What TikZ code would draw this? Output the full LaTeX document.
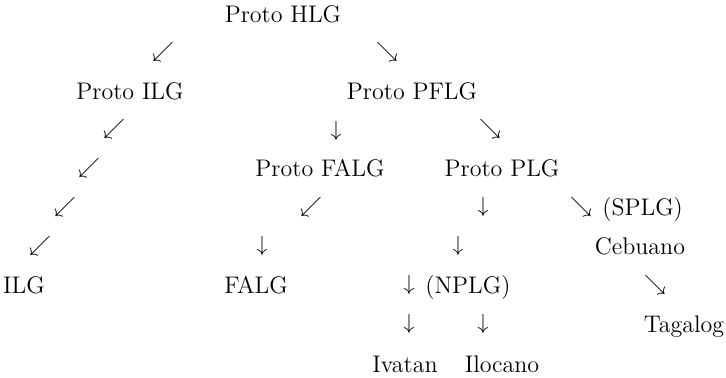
\documentclass[tikz,border=0pt]{standalone}
\usepackage{fontspec}
\begin{document}
\begin{tikzpicture}[x=0.5pt, y=-0.5pt,
  lang/.style={anchor=base, inner sep=0pt, font=\fontsize{12}{14}\selectfont},
  arr/.style={inner sep=0pt, font=\fontsize{10.95}{13}\selectfont}]
			%%%%% START %%%%%
			\useasboundingbox (0,0) rectangle (726,378);
			
			\node[lang] (hlg) at (283,23) {Proto HLG};
			\node[arr] (a1) at (163,52) {$\swarrow$};
			\node[arr] (a2) at (387,52) {$\searrow$};
			
			\node[lang] (ilgp) at (130,100) {Proto ILG};
			\node[lang] (pflg) at (412,100) {Proto PFLG};
			\node[arr] (a3) at (114,129) {$\swarrow$};
			\node[arr] (a4) at (336,131) {$\downarrow$};
			\node[arr] (a5) at (490,129) {$\searrow$};
			
			\node[arr] (a6) at (89,168) {$\swarrow$};
			\node[lang] (falgp) at (320,177) {Proto FALG};
			\node[lang] (plg) at (502,177) {Proto PLG};
			
			\node[arr] (a7) at (65,207) {$\swarrow$};
			\node[arr] (a8) at (311,207) {$\swarrow$};
			\node[arr] (a9) at (483,207) {$\downarrow$};
			\node[arr] (a10) at (581,207) {$\searrow$};
			\node[lang, anchor=base west] (splg) at (602,216) {(SPLG)};
			
			\node[arr] (a11) at (40,246) {$\swarrow$};
			\node[arr] (a12) at (262,246) {$\downarrow$};
			\node[arr] (a13) at (458,246) {$\downarrow$};
			\node[lang] (ceb) at (640,255) {Cebuano};
			
			\node[lang] (ilg) at (24,294) {ILG};
			\node[lang] (falg) at (256,294) {FALG};
			\node[arr] (a14) at (409,285) {$\downarrow$};
			\node[lang, anchor=base west] (nplg) at (425,294) {(NPLG)};
			\node[arr] (a15) at (655,285) {$\searrow$};
			
			\node[arr] (a16) at (409,324) {$\downarrow$};
			\node[arr] (a17) at (483,324) {$\downarrow$};
			\node[lang] (tag) at (684,333) {Tagalog};
			
			\node[lang] (iva) at (405,372) {Ivatan};
			\node[lang] (ilo) at (502,372) {Ilocano};
			%%%%% END %%%%%
\end{tikzpicture}
\end{document}
